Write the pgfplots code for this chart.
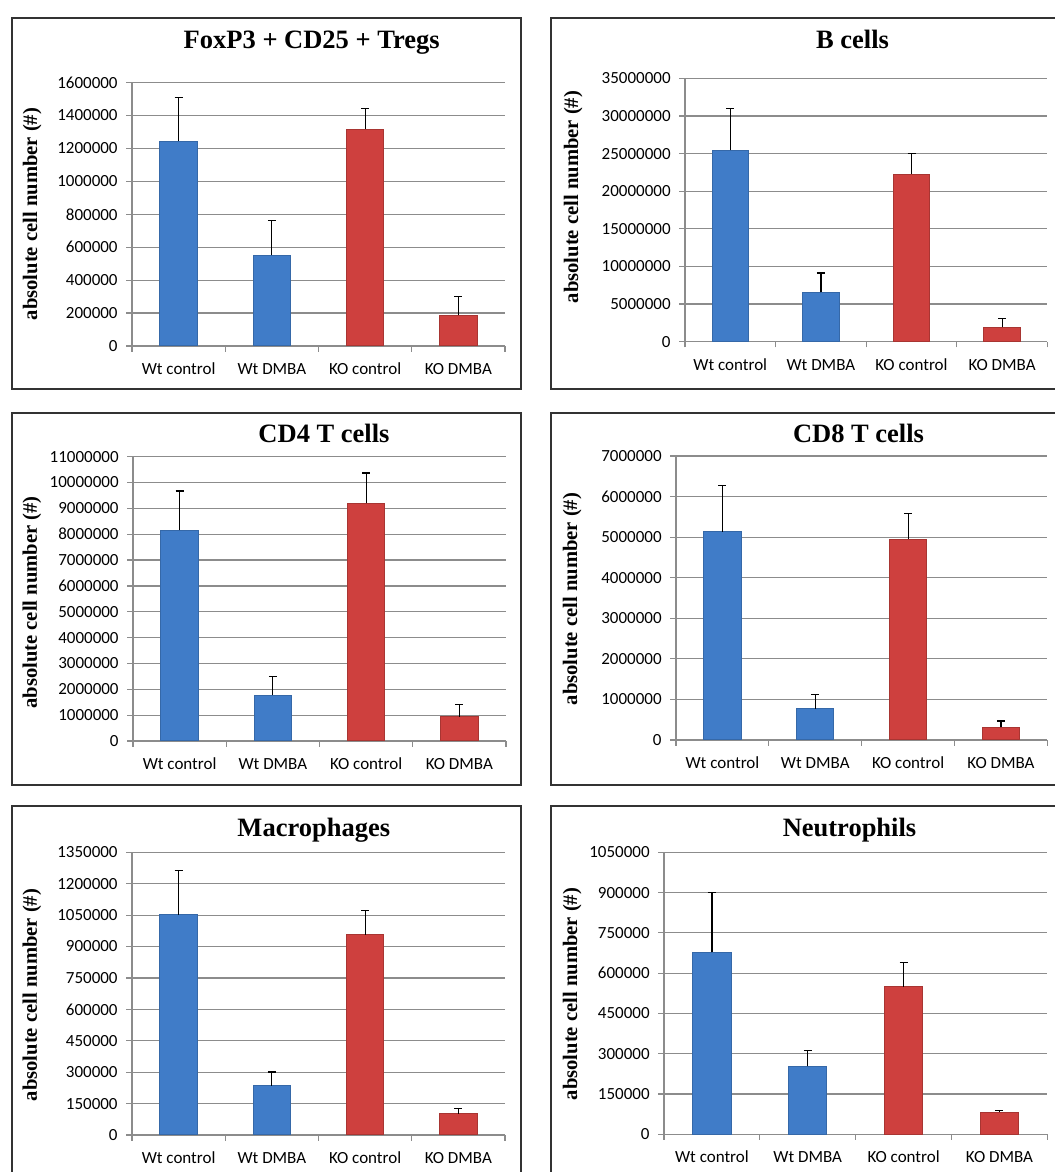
\documentclass[border=0pt]{standalone}
\usepackage{fontspec}
\setmainfont{Carlito}
\newfontfamily\tnr{Liberation Serif}
\usepackage{pgfplots}
\pgfplotsset{compat=1.18}
\definecolor{barblue}{HTML}{407CC8}
\definecolor{barblueedge}{HTML}{3568A8}
\definecolor{barred}{HTML}{CE403E}
\definecolor{barrededge}{HTML}{A83532}
\definecolor{gridgray}{HTML}{8C8C8C}
\definecolor{framegray}{HTML}{333333}
\pgfplotsset{
  cellbar/.style={
    scale only axis,
    xmin=-0.5, xmax=3.5, ymin=0,
    xtick={-0.5,0.5,1.5,2.5,3.5},
    xticklabels={},
    extra x ticks={0,1,2,3},
    extra x tick labels={Wt control, Wt DMBA, KO control, KO DMBA},
    extra x tick style={major tick length=0pt, grid=none, xticklabel style={anchor=base, yshift=-14.3pt}},
    axis x line*=bottom, axis y line*=left,
    axis line style={gridgray, line width=0.6pt},
    tick align=outside,
    major tick length=2.8pt,
    tick style={gridgray, line width=0.6pt},
    ymajorgrids, grid style={gridgray, line width=0.6pt},
    tick label style={font=\fontsize{8.5}{10}\selectfont, text=black},
    yticklabel style={anchor=east, inner xsep=0pt, xshift=-4.2pt,
      /pgf/number format/fixed, /pgf/number format/precision=0,
      /pgf/number format/1000 sep={}, /pgf/number format/assume math mode=true},
    scaled y ticks=false,
    bar width=0.4,
    clip=false,
  },
  bluebar/.style={ybar, bar shift=0pt, fill=barblue, draw=barblueedge, line width=0.5pt},
  redbar/.style={ybar, bar shift=0pt, fill=barred, draw=barrededge, line width=0.5pt},
  errb/.style={error bars/.cd, y dir=plus, y explicit,
    error bar style={line width=0.6pt, black},
    error mark options={rotate=90, mark size=2pt, line width=0.6pt, black}},
}
\newcommand{\ttl}[1]{{\tnr\bfseries\fontsize{13.25}{15}\selectfont #1}}
\newcommand{\ylab}{{\tnr\bfseries\fontsize{10.3}{12}\selectfont absolute cell number (\#)}}
\begin{document}
\begin{tikzpicture}
\path (0,0) rectangle (524pt,586pt);
% frames (parts outside the page do not count for the size)
\begin{pgfinterruptboundingbox}
\begin{scope}[draw=framegray, line width=1pt]
\draw (6pt,577pt) rectangle (260.5pt,391.5pt);
\draw (540pt,577pt) -- (275.5pt,577pt) -- (275.5pt,391.5pt) -- (540pt,391.5pt);
\draw (6pt,379.65pt) rectangle (260.5pt,193.5pt);
\draw (540pt,379.65pt) -- (275.5pt,379.65pt) -- (275.5pt,193.5pt) -- (540pt,193.5pt);
\draw (6pt,-10pt) -- (6pt,183.15pt) -- (260.5pt,183.15pt) -- (260.5pt,-10pt);
\draw (275.5pt,-10pt) -- (275.5pt,183.15pt) -- (540pt,183.15pt);
\end{scope}
\end{pgfinterruptboundingbox}
% Panel 1
\begin{axis}[cellbar, at={(66pt,413pt)}, anchor=south west, width=186.5pt, height=131.7pt,
  ymax=1600000, ytick={0,200000,400000,600000,800000,1000000,1200000,1400000,1600000}]
\addplot[bluebar, errb] coordinates {(0,1245000) +- (0,265000) (1,550000) +- (0,210000)};
\addplot[redbar, errb] coordinates {(2,1318000) +- (0,127000) (3,186000) +- (0,114000)};
\end{axis}
% Panel 2
\begin{axis}[cellbar, at={(342.5pt,415.15pt)}, anchor=south west, width=181.2pt, height=131.7pt,
  ymax=35000000, ytick={0,5000000,10000000,15000000,20000000,25000000,30000000,35000000}]
\addplot[bluebar, errb] coordinates {(0,25470000) +- (0,5500000) (1,6560000) +- (0,2570000)};
\addplot[redbar, errb] coordinates {(2,22280000) +- (0,2750000) (3,1900000) +- (0,1160000)};
\end{axis}
% Panel 3
\begin{axis}[cellbar, at={(66.5pt,215.5pt)}, anchor=south west, width=186.5pt, height=142.15pt,
  ymax=11000000, ytick={0,1000000,2000000,3000000,4000000,5000000,6000000,7000000,8000000,9000000,10000000,11000000}]
\addplot[bluebar, errb] coordinates {(0,8160000) +- (0,1510000) (1,1770000) +- (0,710000)};
\addplot[redbar, errb] coordinates {(2,9190000) +- (0,1180000) (3,930000) +- (0,490000)};
\end{axis}
% Panel 4
\begin{axis}[cellbar, at={(338pt,216pt)}, anchor=south west, width=185.7pt, height=142pt,
  ymax=7000000, ytick={0,1000000,2000000,3000000,4000000,5000000,6000000,7000000}]
\addplot[bluebar, errb] coordinates {(0,5135000) +- (0,1135000) (1,764000) +- (0,353000)};
\addplot[redbar, errb] coordinates {(2,4954000) +- (0,626000) (3,320000) +- (0,148000)};
\end{axis}
% Panel 5
\begin{axis}[cellbar, at={(66pt,18.5pt)}, anchor=south west, width=186.5pt, height=141.35pt,
  ymax=1350000, ytick={0,150000,300000,450000,600000,750000,900000,1050000,1200000,1350000}]
\addplot[bluebar, errb] coordinates {(0,1051000) +- (0,213000) (1,234000) +- (0,67000)};
\addplot[redbar, errb] coordinates {(2,957000) +- (0,116000) (3,102000) +- (0,25000)};
\end{axis}
% Panel 6
\begin{axis}[cellbar, at={(332pt,18.85pt)}, anchor=south west, width=191.7pt, height=141pt,
  ymax=1050000, ytick={0,150000,300000,450000,600000,750000,900000,1050000}]
\addplot[bluebar, errb] coordinates {(0,677600) +- (0,223400) (1,253000) +- (0,59700)};
\addplot[redbar, errb] coordinates {(2,548500) +- (0,91500) (3,83000) +- (0,6000)};
\end{axis}
% titles
\node[anchor=base] at (155.85pt,561.85pt) {\ttl{FoxP3 + CD25 + Tregs}};
\node[anchor=base] at (426.25pt,561.85pt) {\ttl{B cells}};
\node[anchor=base] at (162pt,364.85pt) {\ttl{CD4 T cells}};
\node[anchor=base] at (429.25pt,364.85pt) {\ttl{CD8 T cells}};
\node[anchor=base] at (156.9pt,167.65pt) {\ttl{Macrophages}};
\node[anchor=base] at (424.75pt,167.65pt) {\ttl{Neutrophils}};
% y labels
\node[anchor=base, rotate=90] at (18.6pt,479pt) {\ylab};
\node[anchor=base, rotate=90] at (289pt,487.5pt) {\ylab};
\node[anchor=base, rotate=90] at (18.4pt,284.75pt) {\ylab};
\node[anchor=base, rotate=90] at (288.5pt,286.5pt) {\ylab};
\node[anchor=base, rotate=90] at (18.4pt,88.5pt) {\ylab};
\node[anchor=base, rotate=90] at (288.5pt,89pt) {\ylab};
\end{tikzpicture}
\end{document}
